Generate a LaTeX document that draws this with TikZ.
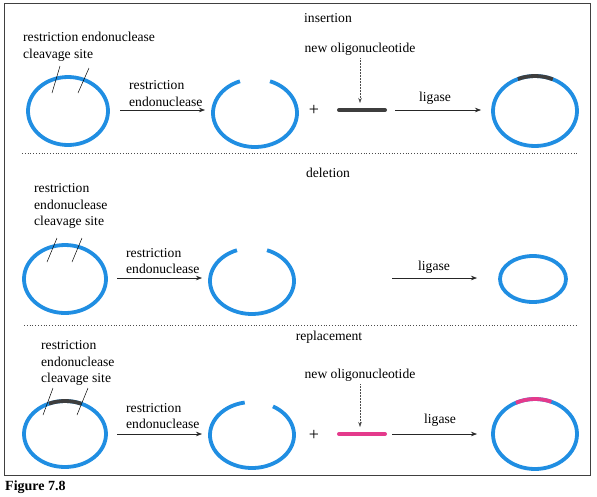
\documentclass[tikz,border=0pt]{standalone}
\usepackage{fontspec}
\setmainfont{Liberation Serif}
\usetikzlibrary{arrows.meta}
\definecolor{plasmid}{RGB}{32,142,226}
\definecolor{oligo}{RGB}{62,62,62}
\definecolor{newseq}{RGB}{228,58,140}

\begin{document}
\begin{tikzpicture}[x=1pt,y=-1pt,
  every node/.style={font=\fontsize{13.6}{16.5}\selectfont,inner sep=0pt},
  ring/.style={plasmid,line width=3.8pt},
  cutline/.style={black,line width=0.5pt},
  rxn/.style={-{Stealth[length=6pt,width=4.5pt]},line width=0.6pt,black!85},
  guide/.style={densely dotted,-{Stealth[length=5pt,width=3.5pt]},line width=0.5pt,black!70},
  sep/.style={dotted,line width=0.8pt,black!70},
  bar/.style={line width=4pt,line cap=round},
  plus/.style={font=\fontsize{18}{18}\selectfont}]
  \useasboundingbox (0,0) rectangle (597,496);
  \draw[black!75,line width=0.7pt] (4,3) rectangle (590,475);
  \node[font=\bfseries\fontsize{14}{16}\selectfont,anchor=west] (fig) at (5,487) {Figure 7.8};
  % separators
  \coordinate (s1a) at (22,153); \coordinate (s1b) at (578,153);
  \coordinate (s2a) at (24,325); \coordinate (s2b) at (578,325);
  \draw[sep] (s1a) -- (s1b);
  \draw[sep] (s2a) -- (s2b);

  % insertion
  \node (t1) at (328,18) {insertion};
  \node[align=left,anchor=west] (site1) at (23,46.5) {restriction endonuclease\\cleavage site};
  \coordinate (p1) at (68,111);
  \draw[ring] (p1) ellipse[x radius=40,y radius=34];
  \draw[cutline] (60,66) -- (52,93);
  \draw[cutline] (89,68) -- (78,93);
  \coordinate (a1s) at (120,110); \coordinate (a1e) at (205,110);
  \draw[rxn] (a1s) -- (a1e);
  \node[align=left,anchor=west] (re1) at (129,93.5) {restriction\\endonuclease};
  \coordinate (q1) at (255,113);
  \draw[ring] (q1) ++(-69:42 and 34) arc[start angle=-69,end angle=249,x radius=42,y radius=34];
  \node[plus] (plus1) at (314,110) {+};
  \coordinate (o1a) at (339,110); \coordinate (o1b) at (385,110);
  \draw[bar,oligo] (o1a) -- (o1b);
  \node (n1) at (360,49) {new oligonucleotide};
  \coordinate (g1) at (360,103);
  \draw[guide] (n1.south) ++(0,3) -- (g1);
  \coordinate (l1s) at (395,110); \coordinate (l1e) at (481,110);
  \draw[rxn] (l1s) -- (l1e);
  \node (lg1) at (435,98) {ligase};
  \coordinate (r1) at (535,111);
  \draw[ring] (r1) ellipse[x radius=42,y radius=35];
  \draw[oligo,line width=3.8pt] (r1) ++(-114:42 and 35) arc[start angle=-114,end angle=-65,x radius=42,y radius=35];

  % deletion
  \node (t2) at (328,173) {deletion};
  \node[align=left,anchor=west] (site2) at (34,206) {restriction\\endonuclease\\cleavage site};
  \coordinate (p2) at (65,279);
  \draw[ring] (p2) ellipse[x radius=41,y radius=34];
  \draw[cutline] (57,238) -- (47,262);
  \draw[cutline] (82,238) -- (72,262);
  \coordinate (a2s) at (117,278); \coordinate (a2e) at (202,278);
  \draw[rxn] (a2s) -- (a2e);
  \node[align=left,anchor=west] (re2) at (126,261) {restriction\\endonuclease};
  \coordinate (q2) at (252,281);
  \draw[ring] (q2) ++(-69:42 and 33) arc[start angle=-69,end angle=249,x radius=42,y radius=33];
  \coordinate (l2s) at (392,278); \coordinate (l2e) at (477,278);
  \draw[rxn] (l2s) -- (l2e);
  \node (lg2) at (434,267) {ligase};
  \coordinate (r2) at (533,279);
  \draw[ring] (r2) ellipse[x radius=33,y radius=23];

  % replacement
  \node (t3) at (329,337) {replacement};
  \node[align=left,anchor=west] (site3) at (41,363) {restriction\\endonuclease\\cleavage site};
  \coordinate (p3) at (65,434);
  \draw[ring] (p3) ellipse[x radius=41,y radius=33];
  \draw[oligo,line width=3.8pt] (p3) ++(-113:41 and 33) arc[start angle=-113,end angle=-67,x radius=41,y radius=33];
  \draw[cutline] (53,388) -- (43,415);
  \draw[cutline] (88,388) -- (77,415);
  \coordinate (a3s) at (117,434); \coordinate (a3e) at (202,434);
  \draw[rxn] (a3s) -- (a3e);
  \node[align=left,anchor=west] (re3) at (126,416) {restriction\\endonuclease};
  \coordinate (q3) at (252,435);
  \draw[ring] (q3) ++(-60:42 and 33) arc[start angle=-60,end angle=260,x radius=42,y radius=33];
  \node[plus] (plus3) at (314,435) {+};
  \coordinate (o3a) at (339,434); \coordinate (o3b) at (385,434);
  \draw[bar,newseq] (o3a) -- (o3b);
  \node (n3) at (360,375) {new oligonucleotide};
  \coordinate (g3) at (360,427);
  \draw[guide] (n3.south) ++(0,3) -- (g3);
  \coordinate (l3s) at (392,434); \coordinate (l3e) at (477,434);
  \draw[rxn] (l3s) -- (l3e);
  \node (lg3) at (440,420) {ligase};
  \coordinate (r3) at (535,434);
  \draw[ring] (r3) ellipse[x radius=42,y radius=35];
  \draw[newseq,line width=3.8pt] (r3) ++(-117:42 and 35) arc[start angle=-117,end angle=-67,x radius=42,y radius=35];
\end{tikzpicture}
\end{document}
